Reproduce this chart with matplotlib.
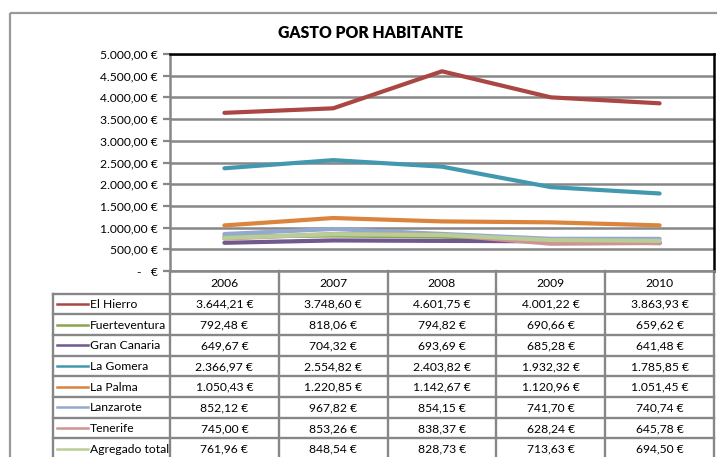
import matplotlib
matplotlib.use("Agg")
import matplotlib.pyplot as plt

plt.rcParams['font.family'] = ['Lato', 'DejaVu Sans']

years = ["2006", "2007", "2008", "2009", "2010"]
series_names = ["El Hierro", "Fuerteventura", "Gran Canaria", "La Gomera",
                "La Palma", "Lanzarote", "Tenerife", "Agregado total"]
el_hierro = [3644.21, 3748.60, 4601.75, 4001.22, 3863.93]
fuerteventura = [792.48, 818.06, 794.82, 690.66, 659.62]
gran_canaria = [649.67, 704.32, 693.69, 685.28, 641.48]
la_gomera = [2366.97, 2554.82, 2403.82, 1932.32, 1785.85]
la_palma = [1050.43, 1220.85, 1142.67, 1120.96, 1051.45]
lanzarote = [852.12, 967.82, 854.15, 741.70, 740.74]
tenerife = [745.00, 853.26, 838.37, 628.24, 645.78]
agregado = [761.96, 848.54, 828.73, 713.63, 694.50]
series_values = [el_hierro, fuerteventura, gran_canaria, la_gomera,
                 la_palma, lanzarote, tenerife, agregado]
colors = ["#AA4643", "#89A54E", "#71588F", "#4198AF",
          "#DB843D", "#93A9CF", "#D19392", "#B9CD96"]
y_ticks = [0, 500, 1000, 1500, 2000, 2500, 3000, 3500, 4000, 4500, 5000]
title = "GASTO POR HABITANTE"


def fmt(v):
    s = f"{v:,.2f}"
    s = s.replace(",", "X").replace(".", ",").replace("X", ".")
    return s + " €"


def fmt_tick(v):
    if v == 0:
        return "-   €"
    return fmt(v)


W, H = 717, 457
fig = plt.figure(figsize=(W / 100, H / 100), dpi=100)

bg = fig.add_axes([0, 0, 1, 1])
bg.set_xlim(0, W)
bg.set_ylim(H, 0)
bg.axis("off")

grid_c = "#878787"
bg.plot([9.5, 9.5], [13, H], color="#999999", lw=1.6, solid_capstyle="butt")
bg.plot([9.5, W], [13, 13], color="#999999", lw=1.6, solid_capstyle="butt")

bg.text(370, 33, title, ha="center", va="center", fontsize=11.3, fontweight="heavy")

px0, px1, py0, py1 = 170, 714, 54, 271
ax = fig.add_axes([px0 / W, 1 - py1 / H, (px1 - px0) / W, (py1 - py0) / H])
ax.set_xlim(-0.5, len(years) - 0.5)
ax.set_ylim(0, 5000)
ax.set_yticks(y_ticks)
ax.set_yticklabels([fmt_tick(t) for t in y_ticks])
ax.set_xticks([])
ax.tick_params(axis="y", length=5, width=1.6, color=grid_c, labelsize=8.7, pad=4)
ax.grid(axis="y", color=grid_c, lw=1.8)
ax.set_axisbelow(True)
for s in ["top", "right"]:
    ax.spines[s].set_color("black")
    ax.spines[s].set_linewidth(1.8)
ax.spines["left"].set_color(grid_c)
ax.spines["left"].set_linewidth(1.8)
ax.spines["bottom"].set_color(grid_c)
ax.spines["bottom"].set_linewidth(1.8)
ax.patch.set_alpha(0)

xs = list(range(len(years)))
for vals, c in zip(series_values, colors):
    ax.plot(xs, vals, color=c, lw=3.0, solid_capstyle="round", solid_joinstyle="round")

col_w = (px1 - px0) / len(years)
col_edges = [px0 + i * col_w for i in range(len(years) + 1)]
lab_x0 = 53
head_top, head_bot = 271, 293.5
row_h = 20.7
n_rows = len(series_names)
row_edges = [head_bot + i * row_h for i in range(n_rows + 1)]
tbl_lw = 1.7

for x in col_edges:
    bg.plot([x, x], [head_top, head_bot], color=grid_c, lw=tbl_lw)
for i, y in enumerate(years):
    bg.text((col_edges[i] + col_edges[i + 1]) / 2, (head_top + head_bot) / 2 + 1, y,
            ha="center", va="center", fontsize=8.7)
for y in row_edges:
    bg.plot([lab_x0, px1], [y, y], color=grid_c, lw=tbl_lw)
for x in [lab_x0] + col_edges:
    bg.plot([x, x], [head_bot, H + 5], color=grid_c, lw=tbl_lw)

for r, (name, vals, c) in enumerate(zip(series_names, series_values, colors)):
    yc = (row_edges[r] + row_edges[r + 1]) / 2
    bg.plot([57, 88], [yc, yc], color=c, lw=1.8)
    bg.text(90, yc + 0.5, name, ha="left", va="center", fontsize=8.7)
    for i, v in enumerate(vals):
        bg.text((col_edges[i] + col_edges[i + 1]) / 2, yc + 0.5, fmt(v),
                ha="center", va="center", fontsize=8.7)

fig.savefig("out.png", dpi=100)
